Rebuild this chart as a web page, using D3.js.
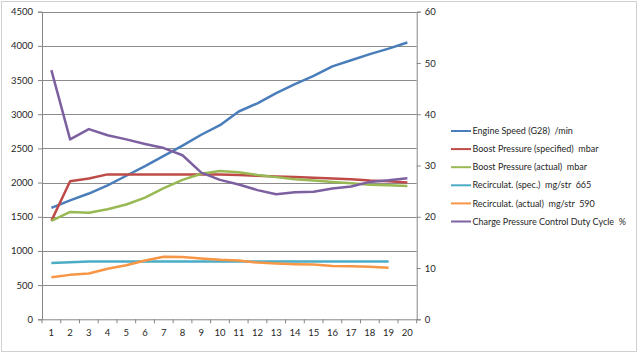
<!DOCTYPE html>
<html lang="en">
<head>
<meta charset="UTF-8">
<title>Engine log</title>
<style>
    body { margin: 0; background: #fff; }
    text { font-family: Lato, "Open Sans", sans-serif; fill: #262626; white-space: pre; }
</style>
</head>
<body>
<div id="content"></div>
<script src="https://cdn.jsdelivr.net/npm/d3@7"></script>
<script>

    // categories (sample number)
    var samples = d3.range(1, 21);

    // left axis series
    var engineSpeed = [1630, 1740, 1840, 1960, 2100, 2240, 2390, 2540, 2700, 2840, 3040, 3160, 3310, 3440, 3560, 3700, 3790, 3880, 3960, 4050];
    var boostSpecified = [1440, 2020, 2060, 2120, 2120, 2120, 2120, 2120, 2120, 2120, 2110, 2100, 2090, 2080, 2070, 2060, 2050, 2030, 2020, 2000];
    var boostActual = [1440, 1570, 1560, 1610, 1680, 1780, 1920, 2040, 2130, 2170, 2150, 2110, 2080, 2050, 2030, 2010, 1990, 1970, 1960, 1950];
    var recircSpec = [825, 835, 845, 845, 845, 845, 845, 845, 845, 845, 845, 845, 845, 845, 845, 845, 845, 845, 845];
    var recircActual = [615, 650, 670, 740, 790, 860, 915, 910, 890, 870, 860, 830, 815, 805, 800, 780, 775, 770, 755];

    // right axis series
    var dutyCycle = [48.6, 35.1, 37.1, 35.9, 35.1, 34.2, 33.4, 32.0, 28.6, 27.2, 26.3, 25.2, 24.4, 24.8, 24.9, 25.5, 25.9, 26.8, 27.1, 27.5];

    var leftTicks = d3.range(0, 4501, 500);
    var rightTicks = d3.range(0, 61, 10);

    var series = [
        {name: "Engine Speed (G28)  /min", values: engineSpeed, color: "#4a7ebb", axis: "left"},
        {name: "Boost Pressure (specified)  mbar", values: boostSpecified, color: "#be4b48", axis: "left"},
        {name: "Boost Pressure (actual)  mbar", values: boostActual, color: "#98b954", axis: "left"},
        {name: "Recirculat. (spec.)  mg/str  665", values: recircSpec, color: "#4bacc6", axis: "left"},
        {name: "Recirculat. (actual)  mg/str  590", values: recircActual, color: "#f79646", axis: "left"},
        {name: "Charge Pressure Control Duty Cycle  %", values: dutyCycle, color: "#7d60a0", axis: "right"}
    ];

    var width = 640, height = 354;
    var plotLeft = 42, plotRight = 416.7, plotTop = 11.7, plotBottom = 319.3;

    var svg = d3.select("#content")
        .append("svg")
        .attr("width", width)
        .attr("height", height);

    // outer chart border
    svg.append("rect")
        .attr("x", 1.5).attr("y", 1.5)
        .attr("width", 635).attr("height", 350)
        .attr("fill", "#fff")
        .attr("stroke", "#d0d0d0");

    var xScale = d3.scaleBand().domain(samples).range([plotLeft, plotRight]).padding(0);
    var yLeft = d3.scaleLinear().domain([0, 4500]).range([plotBottom, plotTop]);
    var yRight = d3.scaleLinear().domain([0, 60]).range([plotBottom, plotTop]);

    // gridlines
    svg.append("g")
        .selectAll("line")
        .data(leftTicks.filter(function (d) { return d > 0; }))
        .enter().append("line")
        .attr("x1", plotLeft).attr("x2", plotRight)
        .attr("y1", function (d) { return Math.round(yLeft(d)) + 0.5; })
        .attr("y2", function (d) { return Math.round(yLeft(d)) + 0.5; })
        .attr("stroke", "#8c8c8c")
        .attr("stroke-width", 1);

    // left axis
    var leftAxis = svg.append("g")
        .attr("transform", "translate(" + plotLeft + ",0)")
        .call(d3.axisLeft(yLeft).tickValues(leftTicks).tickFormat(d3.format("d")).tickSize(4).tickPadding(5));

    // right axis
    var rightAxis = svg.append("g")
        .attr("transform", "translate(" + plotRight + ",0)")
        .call(d3.axisRight(yRight).tickValues(rightTicks).tickFormat(d3.format("d")).tickSize(4).tickPadding(4));

    // bottom axis: ticks between categories
    var bottomAxis = svg.append("g")
        .attr("transform", "translate(0," + plotBottom + ")")
        .call(d3.axisBottom(xScale).tickSize(0).tickPadding(10));

    svg.append("g")
        .selectAll("line")
        .data(samples.concat([21]))
        .enter().append("line")
        .attr("x1", function (d) { return d <= 20 ? xScale(d) : plotRight; })
        .attr("x2", function (d) { return d <= 20 ? xScale(d) : plotRight; })
        .attr("y1", plotBottom).attr("y2", plotBottom + 4)
        .attr("stroke", "#868686");

    [leftAxis, rightAxis, bottomAxis].forEach(function (g) {
        g.selectAll("path").attr("stroke", "#868686");
        g.selectAll("line").attr("stroke", "#868686");
        g.selectAll("text").style("font-family", "Lato, sans-serif").style("font-size", "9.5px").attr("fill", "#262626");
    });

    // lines
    series.forEach(function (s) {
        var yScale = s.axis === "left" ? yLeft : yRight;
        var lineSegment = d3.line()
            .x(function (d, i) { return xScale(samples[i]) + xScale.bandwidth() / 2; })
            .y(function (d) { return yScale(d); });

        svg.append("path")
            .datum(s.values)
            .attr("d", lineSegment)
            .attr("fill", "none")
            .attr("stroke", s.color)
            .attr("stroke-width", 2.5)
            .attr("stroke-linejoin", "round");
    });

    // legend
    var legend = svg.append("g").attr("transform", "translate(451,131)");
    var legendItem = legend.selectAll("g")
        .data(series)
        .enter().append("g")
        .attr("transform", function (d, i) { return "translate(0," + (i * 18.1) + ")"; });

    legendItem.append("line")
        .attr("x1", 0).attr("x2", 20)
        .attr("stroke", function (d) { return d.color; })
        .attr("stroke-width", 2);

    legendItem.append("text")
        .attr("x", 21.5)
        .attr("dy", "0.35em")
        .style("font-size", "9px")
        .text(function (d) { return d.name; });

</script>
</body>
</html>
